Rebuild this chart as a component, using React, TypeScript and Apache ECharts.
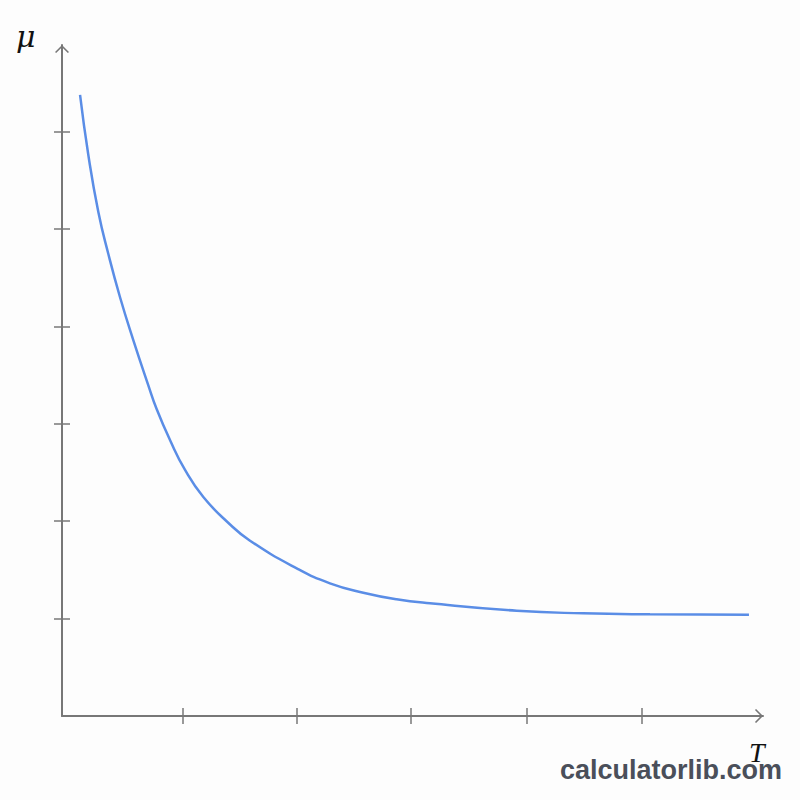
import React, { useEffect, useRef } from 'react';
import * as echarts from 'echarts';

// curve (T and mu in tick units)
const tValues = [0.157, 0.229, 0.316, 0.403, 0.504, 0.62, 0.75, 0.823, 0.939, 1.07, 1.229, 1.443, 1.635, 2.041, 2.33, 2.62, 2.91, 3.2, 3.954, 4.53, 5.113, 5.974];
const muValues = [6.376, 5.76, 5.175, 4.743, 4.302, 3.86, 3.398, 3.152, 2.834, 2.526, 2.248, 1.987, 1.8, 1.516, 1.362, 1.266, 1.198, 1.157, 1.081, 1.054, 1.044, 1.04];

const xTicks = [1.05, 2.04, 3.03, 4.04, 5.04];
const yTicks = [1, 2, 3, 4, 5, 6];

const X_MAX = 6.096;
const Y_MAX = 6.889;

const AXIS_COLOR = '#777777';
const CURVE_COLOR = '#5a8de6';
const CHEVRON = 'path://M10,0 L20,10 L18.4,11.6 L10,3.2 L1.6,11.6 L0,10 Z';

const App: React.FC = () => {
  const chartRef = useRef<HTMLDivElement>(null);

  useEffect(() => {
    if (!chartRef.current) return;
    const chart = echarts.init(chartRef.current, null, { renderer: 'svg' });

    const tickStyle = { color: AXIS_COLOR, width: 1.5 };
    const hidden = { show: false };

    // ticks cross the axis line: one axis draws them outside, a twin draws them inside
    const makeAxis = (max: number, position: string, ticks: number[], main: boolean) => ({
      type: 'value',
      min: 0,
      max,
      position,
      axisLine: main
        ? {
            show: true,
            onZero: false,
            symbol: ['none', CHEVRON],
            symbolSize: [14, 9],
            symbolOffset: [0, -4],
            lineStyle: { color: AXIS_COLOR, width: 2 }
          }
        : { show: false, onZero: false },
      axisTick: { show: true, inside: !main, length: 8, customValues: ticks, lineStyle: tickStyle },
      axisLabel: hidden,
      splitLine: hidden
    });

    const option = {
      animation: false,
      backgroundColor: '#fdfdfd',
      grid: { left: 62, top: 45, right: 37, bottom: 84 },
      xAxis: [
        makeAxis(X_MAX, 'bottom', xTicks, true),
        makeAxis(X_MAX, 'bottom', xTicks, false)
      ],
      yAxis: [
        makeAxis(Y_MAX, 'left', yTicks, true),
        makeAxis(Y_MAX, 'left', yTicks, false)
      ],
      graphic: [
        {
          type: 'text',
          left: 16,
          top: 21,
          style: { text: 'μ', font: 'italic 30px "DejaVu Serif", serif', fill: '#111' }
        },
        {
          type: 'text',
          left: 749,
          top: 738,
          style: { text: 'T', font: 'italic 28px "Liberation Serif", serif', fill: '#111', lineHeight: 22 }
        },
        {
          type: 'text',
          right: 18,
          top: 756,
          style: { text: 'calculatorlib.com', font: 'bold 27px "Liberation Sans", Arial, sans-serif', fill: '#4a4f5a' }
        }
      ],
      series: [
        {
          type: 'line',
          xAxisIndex: 0,
          yAxisIndex: 0,
          data: tValues.map((t, i) => [t, muValues[i]]),
          smooth: 0.5,
          showSymbol: false,
          lineStyle: { color: CURVE_COLOR, width: 2.5 }
        }
      ]
    };

    chart.setOption(option);
    return () => {
      chart.dispose();
    };
  }, []);

  return (
    <div
      ref={chartRef}
      style={{ position: 'fixed', left: 0, top: 0, width: '800px', height: '800px' }}
    />
  );
};

export default App;
